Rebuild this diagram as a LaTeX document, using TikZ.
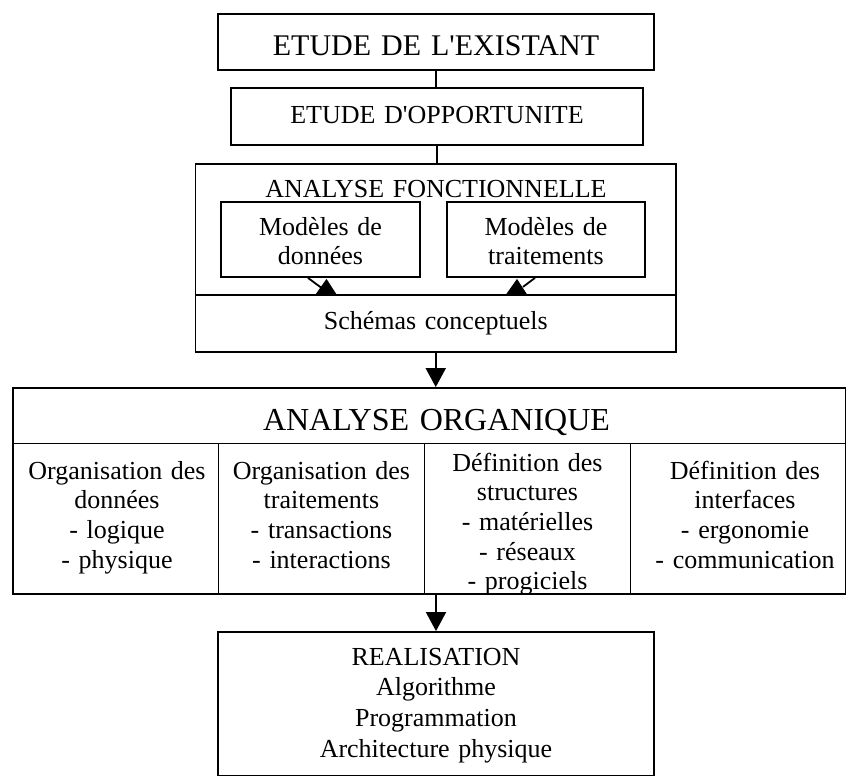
\documentclass[tikz,border=0pt]{standalone}
\usepackage{fontspec}
\setmainfont{Liberation Serif}[Ligatures=TeXOff]
\usetikzlibrary{arrows.meta,calc}
\tikzset{
  boxf/.style={draw, line width=1.8pt, inner sep=0pt, rectangle},
  lbl/.style={anchor=base, inner sep=0pt, text width=#1, align=center},
  fa/.style={font=\fontsize{30}{34}\selectfont},
  fb/.style={font=\fontsize{26}{29.7}\selectfont},
  fc/.style={font=\fontsize{32}{36}\selectfont},
  fr/.style={font=\fontsize{26}{30.7}\selectfont},
  conn/.style={line width=1.8pt},
  arr/.style={line width=1.8pt, -{Triangle[width=20pt,length=19pt]}},
}
\begin{document}
\begin{tikzpicture}[x=1pt,y=-1pt]
\useasboundingbox (0,0) rectangle (847,776);
% boxes
\node[boxf, minimum width=436pt, minimum height=56pt] (b1) at (436,42) {};
\node[boxf, minimum width=412pt, minimum height=57pt] (b2) at (437,116.5) {};
\node[boxf, minimum width=480.5pt, minimum height=131pt] (af) at (435.75,229.5) {};
\node[boxf, minimum width=480.5pt, minimum height=57pt] (sc) at (435.75,323.5) {};
\node[boxf, minimum width=199pt, minimum height=75pt] (m1) at (320.5,239.5) {};
\node[boxf, minimum width=198pt, minimum height=75pt] (m2) at (546,239.5) {};
\node[boxf, minimum width=832.5pt, minimum height=206pt] (ao) at (429.25,491) {};
\node[boxf, minimum width=436pt, minimum height=144pt] (re) at (436,704) {};
% organique grid
\coordinate (hd) at (0,443.5);
\draw[conn] (ao.west |- hd) -- (ao.east |- hd);
\foreach \x in {218.5,424.5,630.5}
  \draw[conn] (\x,443.5) -- (\x,594);
% texts
\node[lbl=430pt, fa] (t1) at (436,55.5) {ETUDE DE L'EXISTANT};
\node[lbl=400pt, fb] (t2) at (437,123.5) {ETUDE D'OPPORTUNITE};
\node[lbl=470pt, fb] (t3) at (436,197) {ANALYSE FONCTIONNELLE};
\node[lbl=190pt, fb] (t4) at (320.5,235) {Modèles de\\données};
\node[lbl=190pt, fb] (t5) at (546,235) {Modèles de\\traitements};
\node[lbl=470pt, fb] (t6) at (435.75,329) {Schémas conceptuels};
\node[lbl=800pt, fc] (t7) at (436.5,430) {ANALYSE ORGANIQUE};
\node[lbl=200pt, fb] (c1) at (117,479) {Organisation des\\données\\- logique\\- physique};
\node[lbl=200pt, fb] (c2) at (321.5,479) {Organisation des\\traitements\\- transactions\\- interactions};
\node[lbl=200pt, fb] (c3) at (527.5,471) {Définition des\\structures\\- matérielles\\- réseaux\\- progiciels};
\node[lbl=210pt, fb] (c4) at (745,479) {Définition des\\interfaces\\- ergonomie\\- communication};
\node[lbl=420pt, fr] (t8) at (436,665) {REALISATION\\Algorithme\\Programmation\\Architecture physique};
% connectors
\draw[conn] (b1.south) -- (b1.south |- b2.north);
\draw[conn] (b2.south) -- (b2.south |- af.north);
\draw[conn] ($(m1.south)+(-12.5,0)$) -- ($(m1.south)+(1,10)$);
\fill ($(m1.south)+(6,1)$) -- ($(m1.south)+(-6,18)$) -- ($(m1.south)+(17,18)$) -- cycle;
\draw[conn] ($(m2.south)+(-11,0)$) -- ($(m2.south)+(-23,9)$);
\fill ($(m2.south)+(-29,1)$) -- ($(m2.south)+(-41,18)$) -- ($(m2.south)+(-18,18)$) -- cycle;
\draw[arr] (sc.south) -- (sc.south |- ao.north);
\draw[arr] (re.north |- ao.south) -- (re.north);
\end{tikzpicture}
\end{document}
